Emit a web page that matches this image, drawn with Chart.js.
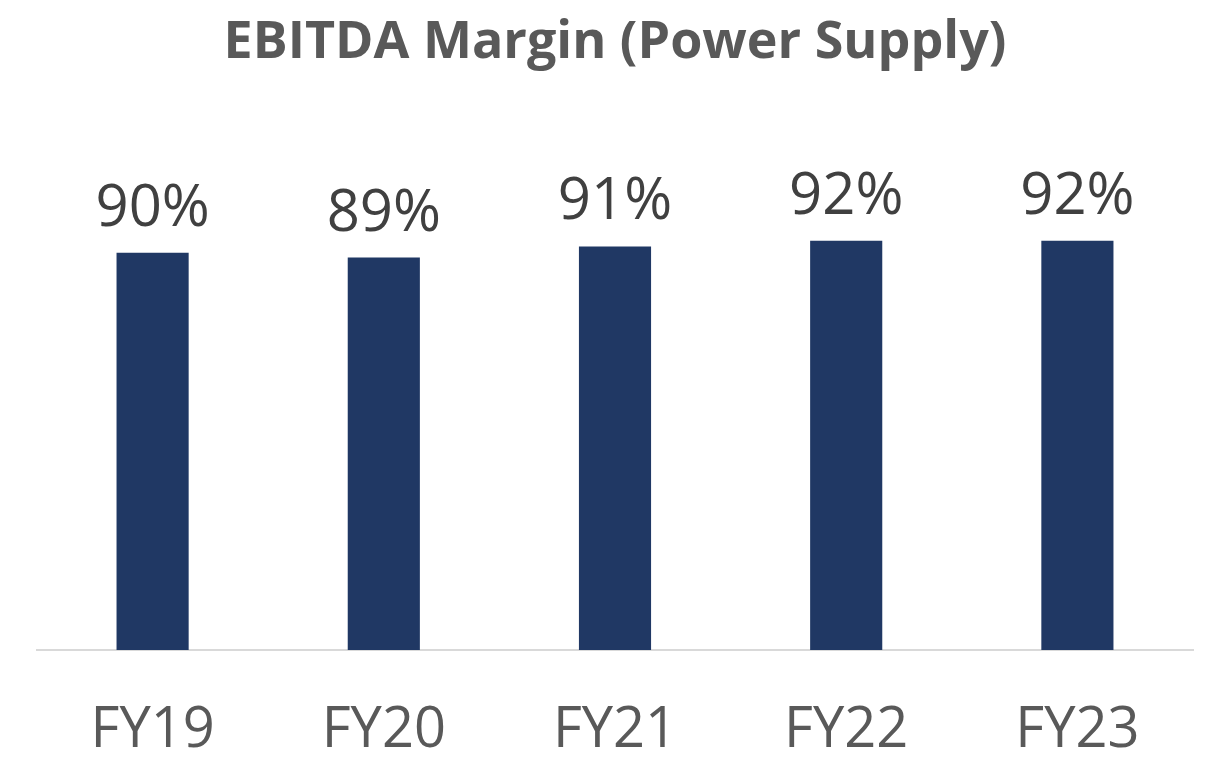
<!DOCTYPE html>
<html>
<head>
<meta charset="utf-8">
<script src="https://cdn.jsdelivr.net/npm/chart.js@4"></script>
<style>
  html, body { margin: 0; padding: 0; background: #ffffff; }
  #wrap { width: 1229px; height: 764px; }
</style>
</head>
<body>
<div id="wrap"><canvas id="marginChart"></canvas></div>
<script>
// Chart data
const years = ['FY19', 'FY20', 'FY21', 'FY22', 'FY23'];
const margins = [89.7, 88.6, 91.1, 92.4, 92.4];
const marginLabels = ['90%', '89%', '91%', '92%', '92%'];

// draws the % value above each bar
const barLabels = {
    id: 'barLabels',
    afterDatasetsDraw(chart) {
        const ctx = chart.ctx;
        const meta = chart.getDatasetMeta(0);
        ctx.save();
        ctx.font = '58px "Open Sans"';
        ctx.fillStyle = '#404040';
        ctx.textAlign = 'center';
        ctx.textBaseline = 'alphabetic';
        meta.data.forEach((bar, i) => {
            ctx.fillText(marginLabels[i], bar.x, bar.y - 27);
        });
        ctx.restore();
    }
};

const ctxBar = document.getElementById('marginChart').getContext('2d');
const marginChart = new Chart(ctxBar, {
    type: 'bar',
    data: {
        labels: years,
        datasets: [{
            label: 'EBITDA Margin',
            data: margins,
            backgroundColor: '#203864',
            barPercentage: 0.312,
            categoryPercentage: 1
        }]
    },
    options: {
        responsive: true,
        maintainAspectRatio: false,
        animation: false,
        layout: {
            padding: { left: 37, right: 36, top: 0, bottom: 0 }
        },
        plugins: {
            legend: { display: false },
            tooltip: { enabled: false },
            title: {
                display: true,
                text: 'EBITDA Margin (Power Supply)',
                color: '#595959',
                font: { family: '"Open Sans"', size: 52, weight: 'bold', lineHeight: 1 },
                padding: { top: 17, bottom: 138 }
            }
        },
        scales: {
            x: {
                grid: { display: false, drawTicks: false },
                border: { display: true, color: '#d9d9d9', width: 2 },
                ticks: {
                    color: '#595959',
                    padding: 53,
                    font: { family: '"Open Sans"', size: 56, lineHeight: 1 }
                },
                afterFit(scale) {
                    scale.height = 114;
                }
            },
            y: {
                display: false,
                min: 0,
                max: 100
            }
        }
    },
    plugins: [barLabels]
});
</script>
</body>
</html>
